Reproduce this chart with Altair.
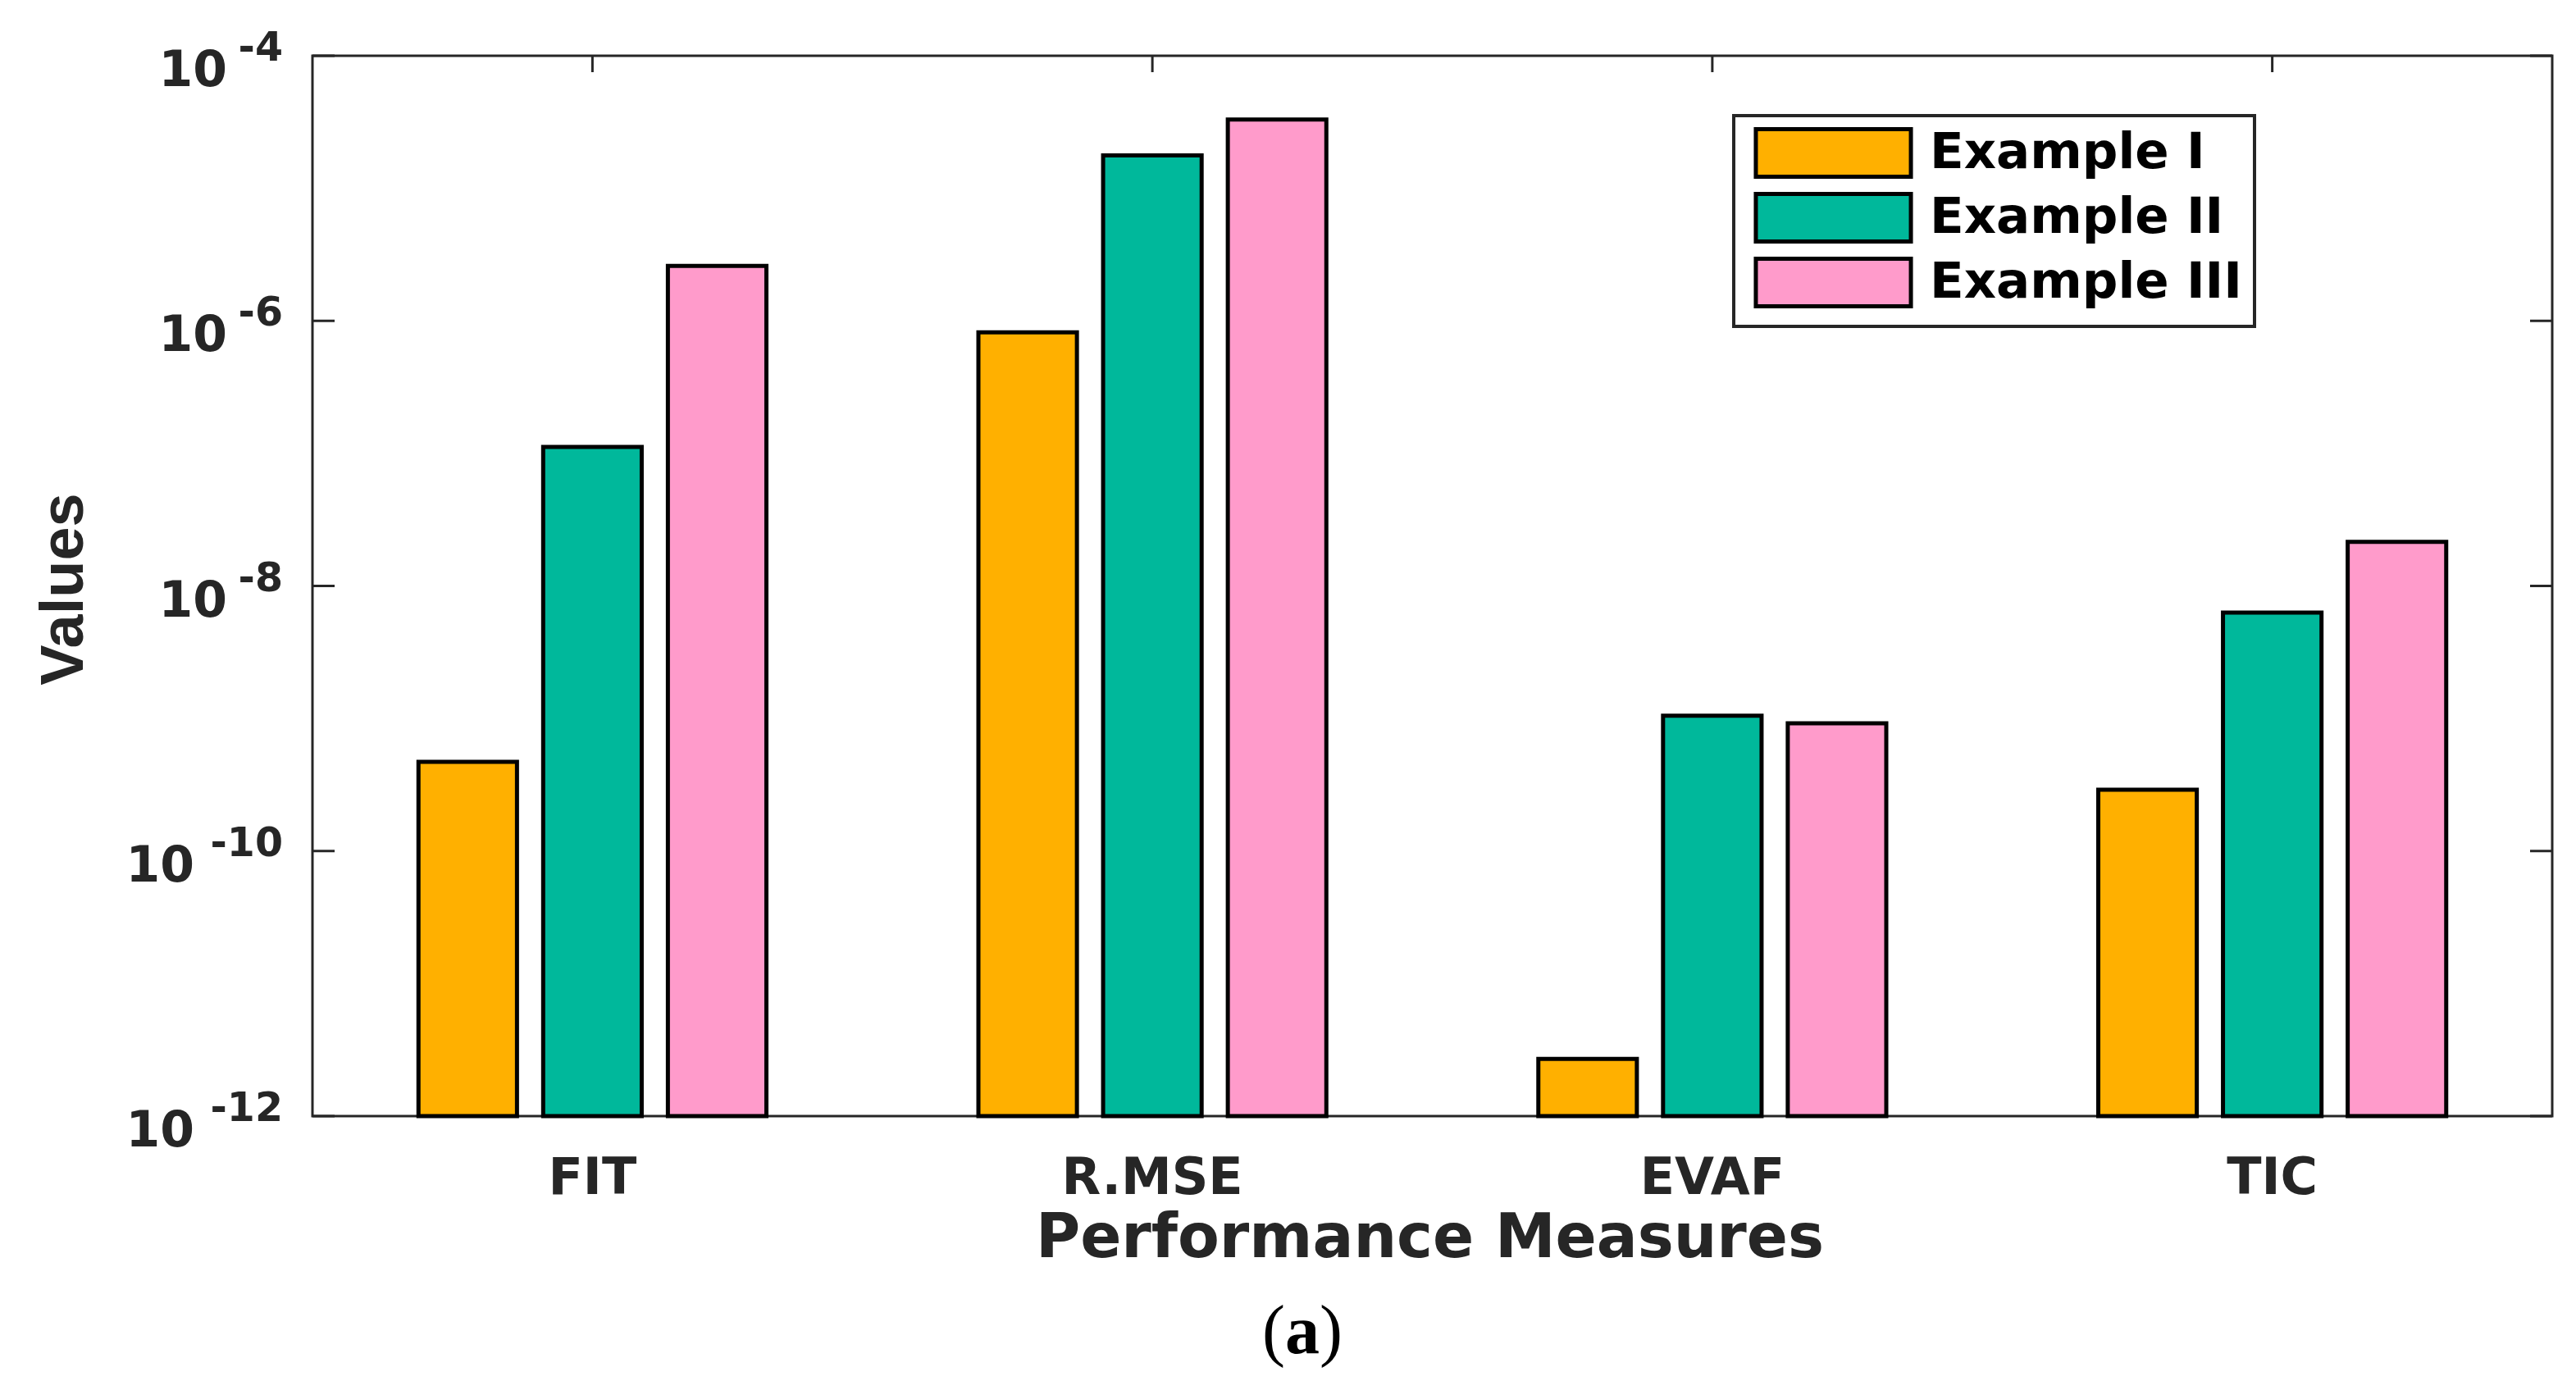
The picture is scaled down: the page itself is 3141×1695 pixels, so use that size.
import altair as alt
import pandas as pd

# ---------------- data ----------------
categories = ["FIT", "R.MSE", "EVAF", "TIC"]
series_names = ["Example I", "Example II", "Example III"]
example_i = [4.7e-10, 8.2e-7, 2.7e-12, 2.9e-10]
example_ii = [1.12e-7, 1.77e-5, 1.05e-9, 6.3e-9]
example_iii = [2.6e-6, 3.3e-5, 9.2e-10, 2.15e-8]
series_colors = ["#FFB000", "#00B89B", "#FF9BCB"]
y_tick_exponents = [-4, -6, -8, -10, -12]

rows = []
for name, vals in zip(series_names, [example_i, example_ii, example_iii]):
    for c, v in zip(categories, vals):
        rows.append({"measure": c, "series": name, "value": v})
bars_df = pd.DataFrame(rows)

ticks_df = pd.DataFrame({"e": y_tick_exponents})
ticks_df["value"] = 10.0 ** ticks_df["e"]
ticks_df["exp"] = ticks_df["e"].astype(str)
cat_df = pd.DataFrame({"measure": categories})

W, H = 2731, 1293
AX = "#262626"

yscale = alt.Scale(type="log", domain=[1e-12, 1e-4], nice=False)
xscale = alt.Scale(domain=categories, paddingInner=0, paddingOuter=0)

x_enc = alt.X(
    "measure:N", scale=xscale, sort=categories, title="Performance Measures",
    axis=alt.Axis(
        title="Performance Measures", labelAngle=0, ticks=False,
        domain=False, grid=False, labelLimit=1000,
        labelFont="DejaVu Sans", labelFontWeight="bold", labelFontSize=62,
        labelColor=AX, labelBaseline="alphabetic", labelPadding=94,
        titleFont="DejaVu Sans", titleFontWeight="bold", titleFontSize=74,
        titleColor=AX, titleBaseline="alphabetic", titleX=1362, titleY=171,
    ),
)
y_enc = alt.Y(
    "value:Q", scale=yscale, title="Values",
    axis=alt.Axis(
        title="Values", labels=False, ticks=False, domain=False, grid=False,
        titleFont="Liberation Sans", titleFontWeight="bold", titleFontSize=74,
        titleColor=AX, titleAngle=-90, titleAlign="center", titleBaseline="alphabetic",
        titleX=-281, titleY=650,
    ),
)

# ---------------- bars ----------------
bars = alt.Chart(bars_df).mark_bar(stroke="black", strokeWidth=5, opacity=1).encode(
    x=x_enc,
    xOffset=alt.XOffset(
        "series:N", sort=series_names,
        scale=alt.Scale(domain=series_names, paddingInner=0.21, paddingOuter=0.85),
    ),
    y=y_enc,
    y2=alt.datum(1e-12),
    color=alt.Color(
        "series:N", scale=alt.Scale(domain=series_names, range=series_colors),
        sort=series_names,
        legend=alt.Legend(
            title=None, orient="none", legendX=1733, legendY=73,
            symbolType="M-3.26,-1H3.26V1H-3.26Z", symbolSize=3364,
            symbolStrokeColor="black", symbolStrokeWidth=5, symbolOpacity=1,
            symbolOffset=76, labelOffset=86, labelLimit=1000,
            labelFont="DejaVu Sans", labelFontWeight="bold", labelFontSize=61,
            labelColor="black", rowPadding=0, padding=14,
            strokeColor=AX, fillColor="white", cornerRadius=0,
        ),
    ),
)

# ---------------- inward ticks (MATLAB box style) ----------------
tick_style = dict(color=AX, strokeWidth=3)
left_ticks = alt.Chart(ticks_df).mark_rule(**tick_style).encode(
    y=y_enc, x=alt.value(0), x2=alt.value(27)
)
right_ticks = alt.Chart(ticks_df).mark_rule(**tick_style).encode(
    y=y_enc, x=alt.value(W - 27), x2=alt.value(W)
)
top_ticks = alt.Chart(cat_df).mark_rule(**tick_style).encode(
    x=alt.X("measure:N", scale=xscale, sort=categories, bandPosition=0.5,
            title="Performance Measures"),
    y=alt.value(0), y2=alt.value(20),
)

# ---------------- y tick labels 10^e ----------------
lab_style = dict(font="DejaVu Sans", fontWeight="bold", color=AX, baseline="alphabetic", align="right")
base_short = alt.Chart(ticks_df).transform_filter("datum.e > -10").mark_text(
    text="10", dx=-104, dy=37, fontSize=60, **lab_style
).encode(y=y_enc, x=alt.value(0))
base_long = alt.Chart(ticks_df).transform_filter("datum.e <= -10").mark_text(
    text="10", dx=-144, dy=37, fontSize=60, **lab_style
).encode(y=y_enc, x=alt.value(0))
exponents = alt.Chart(ticks_df).mark_text(dx=-36, dy=6, fontSize=49, **lab_style).encode(
    y=y_enc, x=alt.value(0), text="exp:N"
)

# ---------------- caption (a) ----------------
cap_style = dict(font="Liberation Serif", fontSize=84, color="black", baseline="alphabetic")
cap_df = pd.DataFrame({"caption": ["a"]})
cap_l = alt.Chart(cap_df).mark_text(text="(", align="right", **cap_style).encode(
    x=alt.value(1186), y=alt.value(1582))
cap_a = alt.Chart(cap_df).mark_text(align="center", fontWeight="bold", **cap_style).encode(
    text="caption:N", x=alt.value(1207), y=alt.value(1582))
cap_r = alt.Chart(cap_df).mark_text(text=")", align="left", **cap_style).encode(
    x=alt.value(1228), y=alt.value(1582))

chart = alt.layer(
    bars, left_ticks, right_ticks, top_ticks,
    base_short, base_long, exponents, cap_l, cap_a, cap_r,
).properties(
    width=W, height=H,
    autosize=alt.AutoSizeParams(type="none"),
    padding={"left": 373, "top": 60, "right": 20, "bottom": 320},
    background="white",
).configure_view(
    stroke=AX, strokeWidth=3
).configure_legend(
    strokeWidth=4
)

chart.save("out.html", embed_options={"renderer": "svg", "actions": False})
